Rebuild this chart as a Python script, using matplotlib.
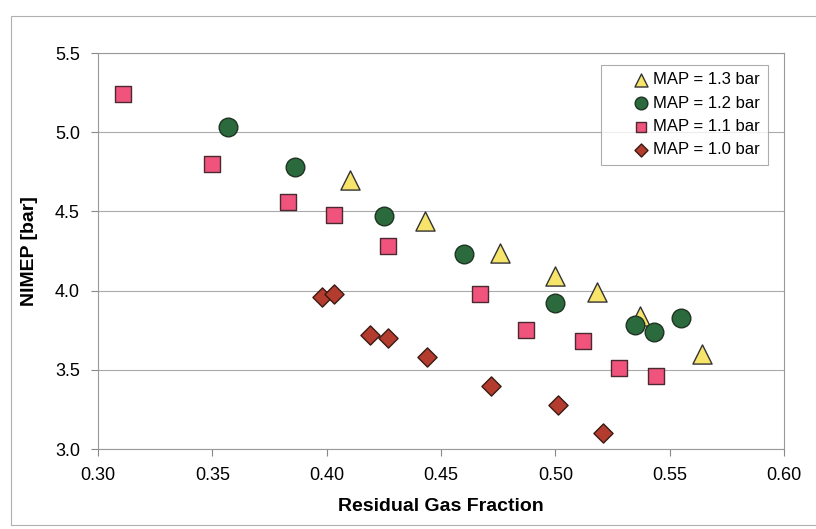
import matplotlib.pyplot as plt
from matplotlib.patches import Rectangle

plt.rcParams['font.family'] = ['Liberation Sans', 'DejaVu Sans']

# MAP = 1.3 bar
x13 = [0.410, 0.443, 0.476, 0.500, 0.518, 0.537, 0.564]
y13 = [4.70, 4.44, 4.24, 4.09, 3.99, 3.84, 3.60]
# MAP = 1.2 bar
x12 = [0.357, 0.386, 0.425, 0.460, 0.500, 0.535, 0.543, 0.555]
y12 = [5.03, 4.78, 4.47, 4.23, 3.92, 3.78, 3.74, 3.83]
# MAP = 1.1 bar
x11 = [0.311, 0.350, 0.383, 0.403, 0.427, 0.467, 0.487, 0.512, 0.528, 0.544]
y11 = [5.24, 4.80, 4.56, 4.48, 4.28, 3.98, 3.75, 3.68, 3.51, 3.46]
# MAP = 1.0 bar
x10 = [0.398, 0.403, 0.419, 0.427, 0.444, 0.472, 0.501, 0.521]
y10 = [3.96, 3.98, 3.72, 3.70, 3.58, 3.40, 3.28, 3.10]

xticks = [0.30, 0.35, 0.40, 0.45, 0.50, 0.55, 0.60]
yticks = [3.0, 3.5, 4.0, 4.5, 5.0, 5.5]

fig = plt.figure(figsize=(8.16, 5.29), dpi=100)
ax = fig.add_axes([0.1201, 0.1512, 0.8407, 0.7486])

# outer chart frame
fig.patches.append(Rectangle((0.014, 0.008), 0.99, 0.962, transform=fig.transFigure,
                             fill=False, edgecolor='#b0b0b0', linewidth=0.8))

ax.scatter(x13, y13, marker='^', s=190, c='#f7e46a', edgecolors='#333333', linewidths=1,
           label='MAP = 1.3 bar', zorder=3)
ax.scatter(x12, y12, marker='o', s=180, c='#2a6a3c', edgecolors='#1f3322', linewidths=1,
           label='MAP = 1.2 bar', zorder=3)
ax.scatter(x11, y11, marker='s', s=130, c='#f0547c', edgecolors='#4a2a30', linewidths=1,
           label='MAP = 1.1 bar', zorder=3)
ax.scatter(x10, y10, marker='D', s=95, c='#b33c2e', edgecolors='#3a1a15', linewidths=1,
           label='MAP = 1.0 bar', zorder=3)

ax.set_xlim(0.30, 0.60)
ax.set_ylim(3.0, 5.5)
ax.set_xticks(xticks)
ax.set_xticklabels(['%.2f' % v for v in xticks])
ax.set_yticks(yticks)
ax.set_yticklabels(['%.1f' % v for v in yticks])
ax.tick_params(labelsize=13, color='#888888', length=5, pad=8)
ax.yaxis.grid(True, color='#aaaaaa', linewidth=0.8)
for sp in ax.spines.values():
    sp.set_color('#999999')
    sp.set_linewidth(0.8)

ax.set_xlabel('Residual Gas Fraction', fontsize=14, fontweight='bold', labelpad=10)
ax.set_ylabel('NIMEP [bar]', fontsize=14, fontweight='bold', labelpad=12)

leg = ax.legend(loc='upper right', bbox_to_anchor=(0.976, 0.97), fontsize=12,
                frameon=True, fancybox=False, edgecolor='#999999', markerscale=0.68,
                handletextpad=-1.2, borderpad=0.45, labelspacing=0.5, handlelength=3.9,
                borderaxespad=0)
leg.get_frame().set_linewidth(0.8)

fig.savefig('out.png', dpi=100)
